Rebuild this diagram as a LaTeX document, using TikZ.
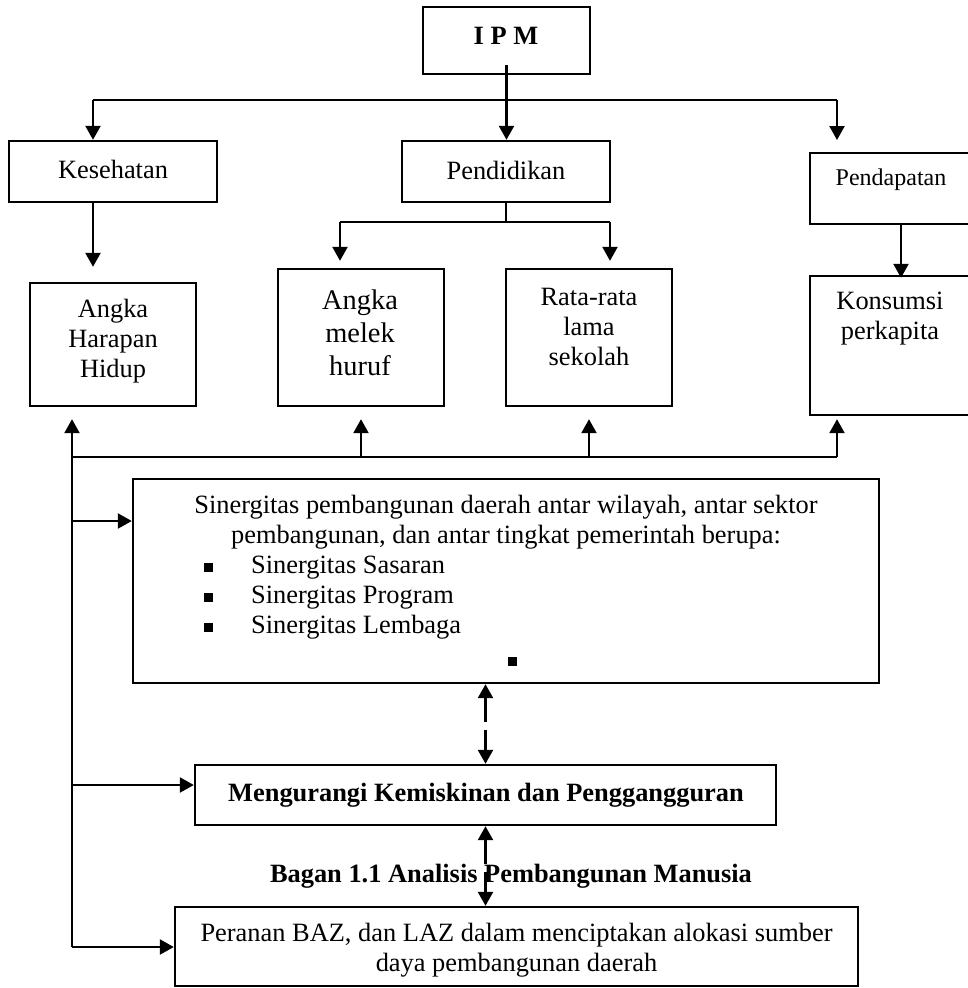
\documentclass[tikz,border=0pt]{standalone}
\usepackage{fontspec}
\setmainfont{Liberation Serif}
\usetikzlibrary{arrows.meta}

\newcommand{\sqbullet}{\raisebox{1.5pt}{\rule{9pt}{9pt}}\hspace{38pt}}

\tikzset{
  box/.style={draw, line width=2.4pt, inner sep=0pt},
  txt/.style={inner sep=0pt, align=center, font=\fontsize{26.4}{30}\selectfont},
  btxt/.style={txt, font=\fontsize{26.4}{30}\selectfont\bfseries},
  link/.style={line width=2.4pt},
  dlink/.style={link, dash pattern=on 24pt off 8pt},
  >={Triangle[length=14pt,width=15pt]}
}

\begin{document}
\begin{tikzpicture}[x=1pt,y=-1pt]
\useasboundingbox (0,0) rectangle (968,988);

% boxes
\node[box, minimum width=167pt, minimum height=67pt] (ipm) at (506.5,40.5) {};
\node[box, minimum width=208pt, minimum height=61pt] (kes) at (113,171.5) {};
\node[box, minimum width=208pt, minimum height=61pt] (pend) at (506,171.5) {};
\node[box, minimum width=165pt, minimum height=71pt] (pdpt) at (892.5,188.5) {};
\node[box, minimum width=166pt, minimum height=123pt] (ahh) at (113,344.5) {};
\node[box, minimum width=166pt, minimum height=137pt] (amh) at (361,337.5) {};
\node[box, minimum width=166pt, minimum height=137pt] (rls) at (589,337.5) {};
\node[box, minimum width=165pt, minimum height=139pt] (kp) at (892.5,345.5) {};
\node[box, minimum width=746pt, minimum height=204pt] (sin) at (506,581) {};
\node[box, minimum width=581pt, minimum height=60pt] (mkp) at (485.5,795) {};
\node[box, minimum width=683pt, minimum height=79pt] (baz) at (516.5,946.5) {};

% texts
\node[btxt] (ipm-t) at (506,35.5) {I P M};
\node[txt] (kes-t) at (113,169) {Kesehatan};
\node[txt] (pend-t) at (506,170.5) {Pendidikan};
\node[txt, font=\fontsize{24}{28}\selectfont] (pdpt-t) at (891,180) {Pendapatan};
\node[txt] (ahh-t) at (113,341) {Angka\\Harapan\\Hidup};
\node[txt, font=\fontsize{28.4}{33}\selectfont] (amh-t) at (360,332.5) {Angka\\melek\\huruf};
\node[txt] (rls-t) at (589,326.5) {Rata-rata\\lama\\sekolah};
\node[txt] (kp-t) at (890,319) {Konsumsi\\perkapita};
\node[txt] (sin-t) at (506,522) {Sinergitas pembangunan daerah antar wilayah, antar sektor\\pembangunan, dan antar tingkat pemerintah berupa:};
\node[txt, align=left, anchor=west] (sin-l) at (204,597.5) {\sqbullet Sinergitas Sasaran\\\sqbullet Sinergitas Program\\\sqbullet Sinergitas Lembaga};
\fill (508,657) rectangle (517,666);
\node[btxt] (mkp-t) at (486,795) {Mengurangi Kemiskinan dan Penggangguran};
\node[btxt] (cap) at (511,876.5) {Bagan 1.1 Analisis Pembangunan Manusia};
\node[txt] (baz-t) at (516.5,950) {Peranan BAZ, dan LAZ dalam menciptakan alokasi sumber\\daya pembangunan daerah};

% top bus
\coordinate (bl) at (93,100);
\coordinate (br) at (837,100);
\draw[link] (bl) -- (br);
\draw[link,->] ([yshift=10pt]ipm.south) -- (ipm.south |- pend.north);
\draw[link,->] (bl) -- (bl |- kes.north);
\draw[link,->] (br) -- ++(0,40);
\draw[link,->,shorten >=15pt] (kes.south -| bl) -- (ahh.north -| bl);

% pendidikan
\coordinate (pl) at (340,222);
\coordinate (pr) at (610,222);
\draw[link] (pend.south) -- (pend.south |- pl);
\draw[link] (pl) -- (pr);
\draw[link,->,shorten >=7pt] (pl) -- (pl |- amh.north);
\draw[link,->,shorten >=7pt] (pr) -- (pr |- rls.north);

% pendapatan
\draw[link,->] ([xshift=8.5pt]pdpt.south) -- ([xshift=8.5pt,yshift=-3pt]kp.north);

% bottom bus
\coordinate (ql) at (72,457);
\coordinate (qr) at (837,457);
\coordinate (qb) at (72,947);
\draw[link] (ql) -- (qr);
\draw[link,->,shorten >=12pt] (qb) -- (qb |- ahh.south);
\foreach \n in {amh,rls}
  \draw[link,->,shorten >=12pt] (ql -| \n.south) -- (\n.south);
\draw[link,->,shorten >=3pt] (qr) -- (qr |- kp.south);

% left branches
\coordinate (s1) at (72,521);
\coordinate (s2) at (72,785);
\draw[link,->] (s1) -- (s1 -| sin.west);
\draw[link,->] (s2) -- (s2 -| mkp.west);
\draw[link,->] (qb) -- (qb -| baz.west);

% dashed links
\draw[dlink,<->] (mkp.north |- sin.south) -- (mkp.north);
\draw[dlink,<->] (mkp.south) -- (mkp.south |- baz.north);
\end{tikzpicture}
\end{document}
